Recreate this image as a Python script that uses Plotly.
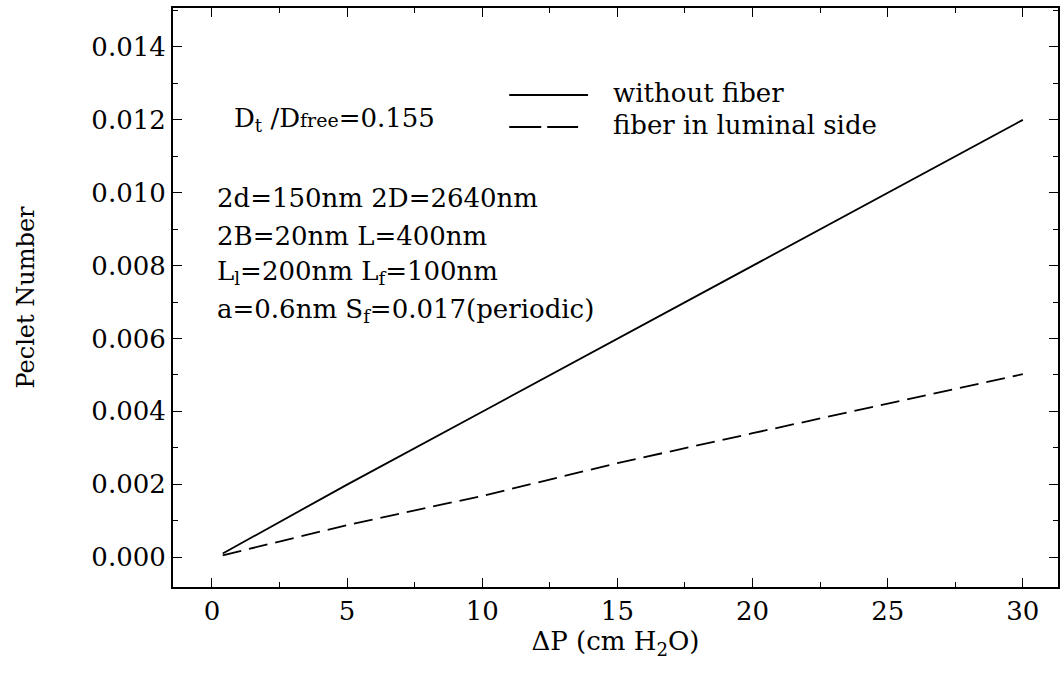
import plotly.graph_objects as go

# Data
dp_solid = [0.4, 5, 10, 15, 20, 25, 30]
pe_solid = [0.0001, 0.00199, 0.00399, 0.00599, 0.00799, 0.00999, 0.0120]
dp_dash = [0.4, 5, 10, 15, 20, 25, 30]
pe_dash = [0.00005, 0.00088, 0.00168, 0.00258, 0.00340, 0.00420, 0.00502]

series_names = ["without fiber", "fiber in luminal side"]
x_ticks = [0, 5, 10, 15, 20, 25, 30]
y_ticks = [0.000, 0.002, 0.004, 0.006, 0.008, 0.010, 0.012, 0.014]

FONT = "DejaVu Serif"
TXT = 26

fig = go.Figure()
fig.add_trace(go.Scatter(x=dp_solid, y=pe_solid, mode="lines", name=series_names[0],
                         line=dict(color="black", width=1.8), showlegend=False))
fig.add_trace(go.Scatter(x=dp_dash, y=pe_dash, mode="lines", name=series_names[1],
                         line=dict(color="black", width=1.8, dash="19px,8px"), showlegend=False))

axis_common = dict(showline=True, linecolor="black", linewidth=2, mirror="ticks",
                   ticks="inside", ticklen=9, tickwidth=1.2, tickcolor="black",
                   showgrid=False, zeroline=False,
                   tickfont=dict(family=FONT, size=TXT, color="black"))

fig.update_xaxes(range=[-1.44, 31.3], tickvals=x_ticks, ticktext=[str(v) for v in x_ticks],
                 minor=dict(ticks="inside", ticklen=5, dtick=2.5, tick0=0, tickcolor="black", tickwidth=1),
                 title=dict(text="ΔP (cm H<sub>2</sub>O)", font=dict(family=FONT, size=26, color="black"), standoff=2),
                 **axis_common)
fig.update_yaxes(range=[-0.00082, 0.01507], tickvals=y_ticks, ticktext=[f"{v:.3f}" for v in y_ticks],
                 minor=dict(ticks="inside", ticklen=5, dtick=0.001, tick0=0, tickcolor="black", tickwidth=1),
                 title=dict(text="Peclet Number", font=dict(family=FONT, size=24, color="black"), standoff=50),
                 **axis_common)

# Manual legend
leg = [(95, "solid", 589, series_names[0]), (127, "32px,6px", 579, series_names[1])]
for ypx, dash, xend, label in leg:
    yp = 1 - (ypx - 8) / 579
    fig.add_shape(type="line", xref="paper", yref="paper",
                  x0=(510 - 173) / 887, x1=(xend - 173) / 887, y0=yp, y1=yp,
                  line=dict(color="black", width=1.8, dash=dash))
    fig.add_annotation(xref="paper", yref="paper", x=(612 - 173) / 887, y=yp + 0.004,
                       text=label, showarrow=False, xanchor="left", yanchor="middle",
                       font=dict(family=FONT, size=TXT, color="black"))

texts = [
    (232, 120, "D<sub>t</sub> /D<span style='font-size:19px'>free</span>=0.155"),
    (215, 198, "2d=150nm 2D=2640nm"),
    (215, 236, "2B=20nm L=400nm"),
    (215, 273, "L<sub>l</sub>=200nm L<sub>f</sub>=100nm"),
    (215, 310, "a=0.6nm S<sub>f</sub>=0.017(periodic)"),
]
for xpx, ypx, t in texts:
    fig.add_annotation(xref="paper", yref="paper", x=(xpx - 173) / 887, y=1 - (ypx - 8) / 579,
                       text=t, showarrow=False, xanchor="left", yanchor="middle",
                       font=dict(family=FONT, size=TXT, color="black"))

fig.update_layout(width=1062, height=676, margin=dict(l=173, r=2, t=8, b=89),
                  paper_bgcolor="white", plot_bgcolor="white",
                  font=dict(family=FONT, color="black"))

fig.write_html("out.html")
